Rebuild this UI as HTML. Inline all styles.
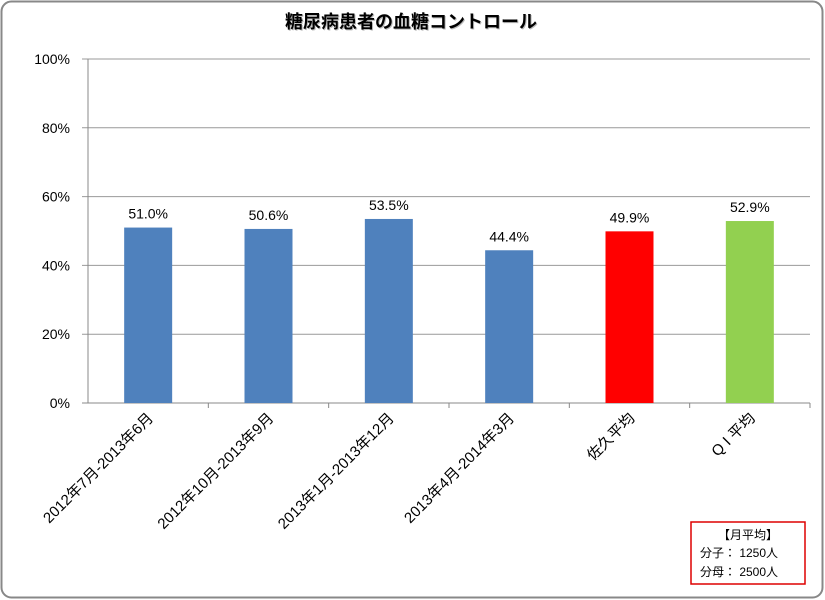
<!DOCTYPE html>
<html><head><meta charset="utf-8"><style>
body{margin:0;background:#fff}
svg{display:block;font-family:"Liberation Sans","Noto Sans CJK JP",sans-serif}
</style></head><body>
<svg width="825" height="600" id="c">
<rect x="1.5" y="1.5" width="821" height="596" rx="10" fill="#fff" stroke="#888" stroke-width="2"/>
<text x="412" y="29" text-anchor="middle" font-size="18" font-weight="bold" fill="#bbb">糖尿病患者の血糖コントロール</text>
<text x="411" y="28" text-anchor="middle" font-size="18" font-weight="bold" fill="#000">糖尿病患者の血糖コントロール</text>
<g id="grid"></g><g id="bars"></g><g id="labels"></g>
<rect x="691" y="522" width="114" height="62" fill="#fff" stroke="#d00" stroke-width="1.5"/>
<text x="748" y="539" text-anchor="middle" font-size="12">【月平均】</text>
<text x="700" y="557" font-size="12">分子： 1250人</text>
<text x="700" y="576" font-size="12">分母： 2500人</text>
</svg>
<script>
const categories=["2012年7月-2013年6月","2012年10月-2013年9月","2013年1月-2013年12月","2013年4月-2014年3月","佐久平均","Q I 平均"];
const values=[51.0,50.6,53.5,44.4,49.9,52.9];
const colors=["#4f81bd","#4f81bd","#4f81bd","#4f81bd","#ff0000","#92d050"];
const ticks=[0,20,40,60,80,100];
const NS="http://www.w3.org/2000/svg";
const x0=88,x1=810,yTop=59,yBot=403;
const y=v=>yBot-(v/100)*(yBot-yTop);
const band=(x1-x0)/categories.length;
const xc=i=>x0+band*(i+0.5);
function mk(t,a,p){const e=document.createElementNS(NS,t);for(const k in a)e.setAttribute(k,a[k]);p.appendChild(e);return e;}
const g=document.getElementById('grid'),b=document.getElementById('bars'),l=document.getElementById('labels');
ticks.forEach(t=>{
 const ln=mk('line',{x1:82,x2:x1,y1:y(t),y2:y(t),stroke:t===0?'#888':'#999','stroke-width':1},g);
 
 
 const tx=mk('text',{x:70,y:y(t)+5,'text-anchor':'end','font-size':14},g);tx.textContent=t+'%';
 
 
});
const ax=mk('line',{x1:x0,x2:x0,y1:yTop,y2:yBot,stroke:'#888'},g);


categories.forEach((c,i)=>{
 const tk=mk('line',{x1:x0+band*(i+1),x2:x0+band*(i+1),y1:yBot,y2:yBot+5,stroke:'#888'},g);
 
 
 const r=mk('rect',{x:xc(i)-24,y:y(values[i]),width:48,height:yBot-y(values[i]),fill:colors[i]},b);
 
 
 const v=mk('text',{x:xc(i),y:y(values[i])-9,'text-anchor':'middle','font-size':14},l);v.textContent=values[i].toFixed(1)+'%';
 
 
 const t=mk('text',{x:xc(i)+6,y:yBot+16,'text-anchor':'end','font-size':15,transform:`rotate(-45 ${xc(i)+6} ${yBot+16})`},l);t.textContent=c;
 
 
});
</script>
</body></html>
